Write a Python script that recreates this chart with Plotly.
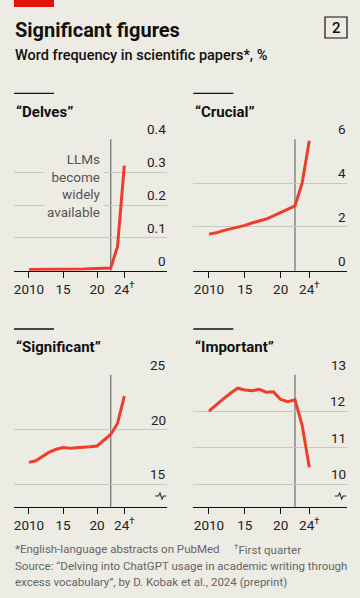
import plotly.graph_objects as go

W, H = 360, 598
BG = "#ecebe4"
RED = "#ee3d2b"
GRID = "#c9c7c0"
FONT = "Roboto"

years = list(range(2010, 2025))
delves = [0.004, 0.004, 0.003, 0.003, 0.004, 0.004, 0.004, 0.005, 0.005, 0.006, 0.006, 0.007, 0.008, 0.073, 0.32]
crucial = [1.67, 1.73, 1.83, 1.91, 1.98, 2.07, 2.18, 2.26, 2.36, 2.50, 2.66, 2.80, 2.96, 4.0, 5.93]
significant = [17.0, 17.15, 17.55, 17.95, 18.2, 18.35, 18.3, 18.33, 18.38, 18.42, 18.5, 19.0, 19.55, 20.55, 23.05]
important = [12.0, 12.18, 12.34, 12.49, 12.63, 12.58, 12.56, 12.6, 12.52, 12.53, 12.32, 12.26, 12.31, 11.62, 10.47]

titles = ["“Delves”", "“Crucial”", "“Significant”", "“Important”"]
series = [delves, crucial, significant, important]
ytick_vals = [[0, 0.1, 0.2, 0.3, 0.4], [0, 2, 4, 6], [15, 20, 25], [10, 11, 12, 13]]
ytick_text = [["0", "0.1", "0.2", "0.3", "0.4"], ["0", "2", "4", "6"], ["15", "20", "25"], ["10", "11", "12", "13"]]
yranges = [[0, 0.4], [0, 6], [12.96, 25], [9.387, 13]]
xtick_vals = [2010, 2015, 2020, 2024]
xtick_text = ["2010", "15", "20", "24<sup>†</sup>"]
llm_year = 2022

# panel geometry in pixels: (left, right, top, bottom)
panels = [
    (14, 167, 139.3, 270.7),
    (193.3, 346.7, 139.3, 270.7),
    (14, 167, 374.7, 506.7),
    (193.3, 346.7, 374.7, 506.7),
]
xranges = [[2007.80, 2030.27], [2007.81, 2029.22], [2007.80, 2030.27], [2007.81, 2029.22]]
title_y = [111.7, 111.7, 346.7, 346.7]
rule_y = [93.3, 93.3, 329, 329]


def px(x):
    return x / W


def py(y):
    return 1 - y / H


fig = go.Figure()
annotations = []
shapes = []
layout = {}

for i in range(4):
    n = "" if i == 0 else str(i + 1)
    l, r, t, b = panels[i]
    fig.add_trace(go.Scatter(
        x=years, y=series[i], mode="lines",
        line=dict(color=RED, width=3), xaxis="x" + n, yaxis="y" + n,
        showlegend=False, hoverinfo="skip",
    ))
    grid_vals = [v for v in ytick_vals[i] if v != yranges[i][0]]
    layout["xaxis" + n] = dict(
        domain=[px(l), px(r)], range=xranges[i], anchor="y" + n,
        showgrid=False, zeroline=False, showline=True, linecolor="#111",
        linewidth=1.2, ticks="outside", ticklen=6, tickwidth=1, tickcolor="#111",
        tickvals=xtick_vals, ticktext=xtick_text, layer="below traces",
        tickfont=dict(family=FONT, size=13.5, color="#222"), fixedrange=True,
    )
    layout["yaxis" + n] = dict(
        domain=[py(b), py(t)], range=yranges[i], anchor="x" + n,
        showgrid=True, gridcolor=GRID, gridwidth=1, zeroline=False,
        showline=False, tickvals=grid_vals, showticklabels=False,
        fixedrange=True,
    )
    # y labels sitting on gridlines, right aligned
    for v, tx in zip(ytick_vals[i], ytick_text[i]):
        annotations.append(dict(
            xref="x" + n + " domain", yref="y" + n, x=1, y=v,
            xanchor="right", yanchor="bottom", text=tx, showarrow=False,
            font=dict(family=FONT, size=13.5, color="#222"), borderpad=0, yshift=1,
        ))
    # LLM vertical line
    shapes.append(dict(
        type="line", xref="x" + n, yref="y" + n + " domain",
        x0=llm_year, x1=llm_year, y0=0, y1=1,
        line=dict(color="#777", width=1.3), layer="below",
    ))
    # panel title and rule
    shapes.append(dict(
        type="line", xref="paper", yref="paper",
        x0=px(l), x1=px(l + 40), y0=py(rule_y[i]), y1=py(rule_y[i]),
        line=dict(color="#111", width=1.3),
    ))
    annotations.append(dict(
        xref="paper", yref="paper", x=px(l), y=py(title_y[i]),
        xanchor="left", yanchor="middle", text="<b>" + titles[i] + "</b>",
        showarrow=False, font=dict(family=FONT, size=15, color="#111"),
    ))
    # axis break symbol for non-zero baselines
    if i >= 2:
        bx1 = r - 0.5
        bx0 = bx1 - 11.5
        yy = 496
        path = (f"M {px(bx0)} {py(yy)} L {px(bx0 + 3.5)} {py(yy)} "
                f"L {px(bx0 + 5)} {py(yy - 3)} L {px(bx0 + 7)} {py(yy + 3)} "
                f"L {px(bx0 + 8.5)} {py(yy)} L {px(bx1)} {py(yy)}")
        shapes.append(dict(type="path", xref="paper", yref="paper", path=path,
                           line=dict(color="#333", width=1.1)))

# annotation in Delves panel
annotations.append(dict(
    xref="x", yref="y", x=llm_year, y=0.258, xanchor="right", yanchor="middle",
    xshift=-7, text="LLMs<br>become<br>widely<br>available", align="right",
    showarrow=False, bgcolor=BG, borderpad=2,
    font=dict(family=FONT, size=13.5, color="#555"),
))

# header
shapes.append(dict(type="rect", xref="paper", yref="paper",
                   x0=px(14), x1=px(54), y0=py(7), y1=py(0),
                   fillcolor="#e3120b", line=dict(width=0)))
annotations.append(dict(
    xref="paper", yref="paper", x=px(13), y=py(30), xanchor="left", yanchor="middle",
    text="<b>Significant figures</b>", showarrow=False,
    font=dict(family=FONT, size=20, color="#111"),
))
annotations.append(dict(
    xref="paper", yref="paper", x=px(13), y=py(56), xanchor="left", yanchor="middle",
    text="Word frequency in scientific papers*, %", showarrow=False,
    font=dict(family=FONT, size=14.5, color="#111", weight=500),
))
shapes.append(dict(type="rect", xref="paper", yref="paper",
                   x0=px(325), x1=px(347), y0=py(38), y1=py(17),
                   line=dict(color="#111", width=1.2)))
annotations.append(dict(
    xref="paper", yref="paper", x=px(336), y=py(27.5), xanchor="center", yanchor="middle",
    text="2", showarrow=False, font=dict(family=FONT, size=15, color="#111", weight=500),
))

# footnotes
foot_font = dict(family=FONT, size=11.5, color="#666")
annotations.append(dict(
    xref="paper", yref="paper", x=px(13), y=py(549), xanchor="left", yanchor="middle",
    text="*English-language abstracts on PubMed", showarrow=False, font=foot_font,
))
annotations.append(dict(
    xref="paper", yref="paper", x=px(232), y=py(549), xanchor="left", yanchor="middle",
    text="<sup>†</sup>First quarter", showarrow=False, font=foot_font,
))
annotations.append(dict(
    xref="paper", yref="paper", x=px(13), y=py(565.5), xanchor="left", yanchor="middle",
    text="Source: “Delving into ChatGPT usage in academic writing through", showarrow=False,
    font=foot_font,
))
annotations.append(dict(
    xref="paper", yref="paper", x=px(13), y=py(582), xanchor="left", yanchor="middle",
    text="excess vocabulary”, by D. Kobak et al., 2024 (preprint)", showarrow=False,
    font=foot_font,
))

fig.update_layout(
    width=W, height=H, autosize=False,
    margin=dict(l=0, r=0, t=0, b=0),
    paper_bgcolor=BG, plot_bgcolor=BG,
    annotations=annotations, shapes=shapes,
    font=dict(family=FONT),
    **layout,
)

fig.write_html(
    "out.html",
    config={"displayModeBar": False},
    post_script="document.body.style.margin='0';document.body.style.background='" + BG + "';",
)
